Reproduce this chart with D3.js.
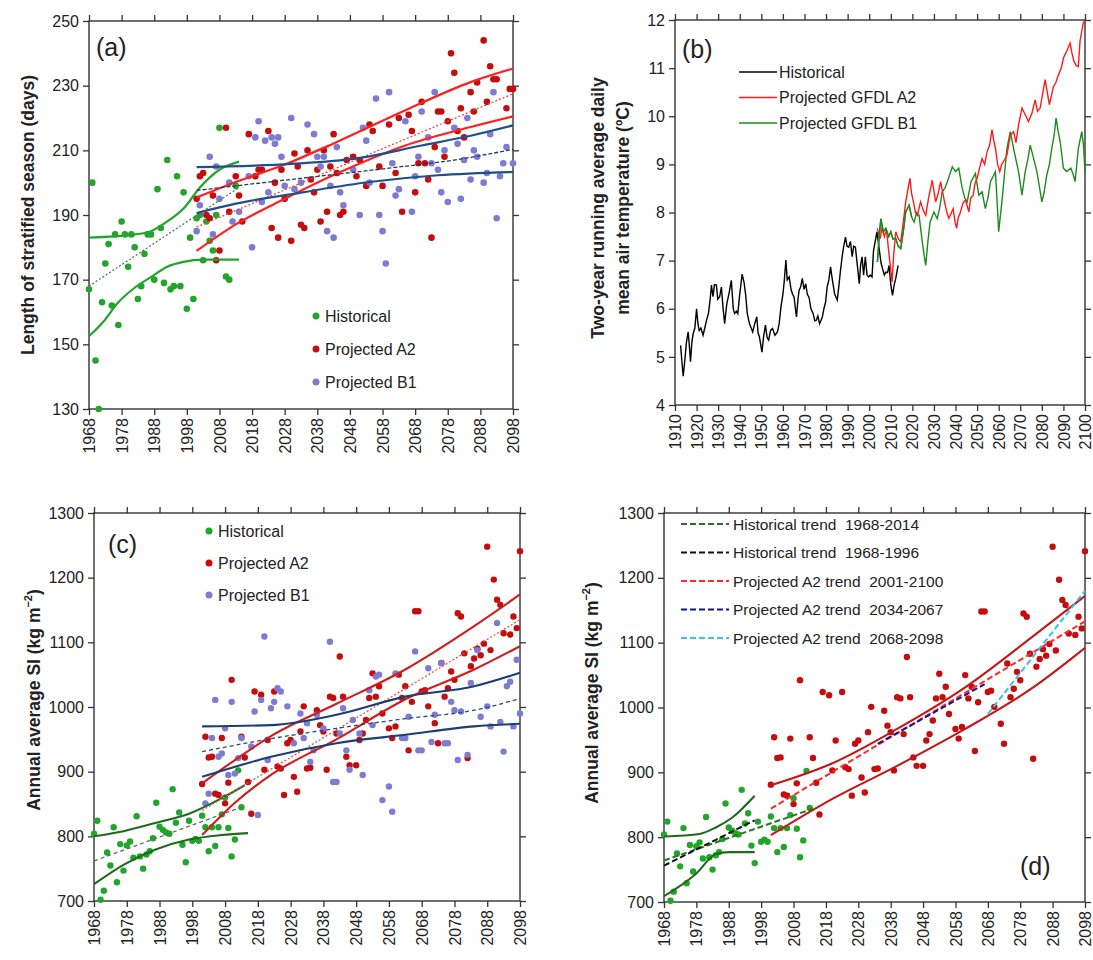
<!DOCTYPE html>
<html>
<head>
<meta charset="utf-8">
<script src="https://cdn.jsdelivr.net/npm/d3@7"></script>
<style>
body { margin: 0; background: #fff; }
svg { font-family: Arial, "Liberation Sans", sans-serif; }
</style>
</head>
<body>
<svg width="1093" height="960"></svg>
<script>
// ---- panel (a): length of stratified season (days) ----
var aHist = [[1968,167],[1969,200],[1970,145],[1971,130],[1972,163],[1973,175],[1974,181],[1975,162],[1976,184],[1977,156],[1978,188],[1979,184],[1980,174],[1981,184],[1982,180],[1983,164],[1984,168],[1985,178],[1986,184],[1987,184],[1988,170],[1989,198],[1990,186],[1991,169],[1992,207],[1993,167],[1994,168],[1995,202],[1996,168],[1997,197],[1998,161],[1999,183],[2000,164],[2001,189],[2002,190],[2003,176],[2004,188],[2005,182],[2006,179],[2007,190],[2008,217],[2010,171],[2011,170],[2013,199]];
var aA2 = [[2001,195],[2002,202],[2003,203],[2004,190],[2005,189],[2006,196],[2007,176],[2008,179],[2010,217],[2011,191],[2013,202],[2014,196],[2015,188],[2017,215],[2019,202],[2020,204],[2021,204],[2023,216],[2024,186],[2025,200],[2026,183],[2027,204],[2028,195],[2030,182],[2031,209],[2032,205],[2033,187],[2034,186],[2035,210],[2036,201],[2037,197],[2038,204],[2039,188],[2040,210],[2041,191],[2042,205],[2043,215],[2044,203],[2045,190],[2046,191],[2047,207],[2049,208],[2050,202],[2051,207],[2053,199],[2054,218],[2055,216],[2057,205],[2058,199],[2060,218],[2062,203],[2063,220],[2064,191],[2066,221],[2067,216],[2068,197],[2069,206],[2070,225],[2071,206],[2072,201],[2073,183],[2074,211],[2075,222],[2076,222],[2077,208],[2078,219],[2079,240],[2080,234],[2081,216],[2082,223],[2083,214],[2085,228],[2086,222],[2087,231],[2089,244],[2090,225],[2091,236],[2092,232],[2093,232],[2096,223],[2097,229],[2098,229]];
var aB1 = [[2001,185],[2002,193],[2005,208],[2006,184],[2007,205],[2008,195],[2011,200],[2012,188],[2014,191],[2017,202],[2018,180],[2019,214],[2020,219],[2021,194],[2022,213],[2023,197],[2024,214],[2025,212],[2026,214],[2027,208],[2028,199],[2030,220],[2031,198],[2033,200],[2035,218],[2037,215],[2038,208],[2039,205],[2040,208],[2041,185],[2042,199],[2043,183],[2044,211],[2045,197],[2046,193],[2049,204],[2051,190],[2052,217],[2053,213],[2054,200],[2056,226],[2057,190],[2058,185],[2059,175],[2060,228],[2061,206],[2062,196],[2063,198],[2065,219],[2067,191],[2068,202],[2069,208],[2070,222],[2072,214],[2073,206],[2074,228],[2075,204],[2076,197],[2077,210],[2078,194],[2080,217],[2081,212],[2082,195],[2083,207],[2084,220],[2085,201],[2086,210],[2087,208],[2089,200],[2090,203],[2091,215],[2092,228],[2093,189],[2094,202],[2095,206],[2096,211],[2098,206]];
var aHistUp = [[1968,183],[1982,184],[1987,185],[1992,188],[1997,192],[2002,198.5],[2008,204],[2014,206.5]];
var aHistLo = [[1968,152.5],[1972,156.5],[1977,163],[1982,167.5],[1987,170.8],[1992,174],[1997,175.5],[2003,176.2],[2014,176.2]];
var aHistMid = [[1968,168],[2014,198.5]];
var aA2Up = [[2001,195.4],[2013,200.2],[2028,205.6],[2044,212.6],[2065,222.4],[2085,231.1],[2098,235.3]];
var aA2Lo = [[2001,178.9],[2013,187.1],[2028,195],[2044,202.8],[2065,211.5],[2085,217.2],[2098,220.5]];
var aA2Mid = [[2001,186.3],[2098,227.5]];
var aB1Up = [[2001,204.8],[2030,205.8],[2050,207.5],[2070,211.5],[2085,214.5],[2098,217.7]];
var aB1Lo = [[2001,190.6],[2013,193.5],[2034,197.1],[2054,200.2],[2075,202.3],[2098,203.3]];
var aB1Mid = [[2001,197.6],[2030,201],[2060,204.5],[2080,207],[2098,210.3]];

// ---- panel (b): two-year running average air temperature ----
var bHist = [[1912.6,5.24],[1913.2,4.9],[1913.8,4.6],[1914.6,4.95],[1915.3,5.3],[1916.1,5.52],[1916.7,5.2],[1917.2,4.9],[1917.8,5.3],[1918.4,5.48],[1919.2,5.6],[1920,6.0],[1920.6,5.7],[1921.2,5.55],[1922,5.6],[1923,5.45],[1923.8,5.6],[1924.6,5.76],[1925.5,5.9],[1926.3,6.2],[1926.9,6.49],[1927.6,6.25],[1928.3,6.5],[1929.2,6.49],[1929.8,6.2],[1930.7,6.25],[1931.5,6.45],[1932.3,6.0],[1933,5.69],[1934,6.1],[1935,6.31],[1936.1,6.59],[1937,6.0],[1937.6,5.9],[1938.5,5.95],[1939.1,5.9],[1940,6.3],[1941.1,6.72],[1942,6.55],[1942.7,6.31],[1943.5,5.9],[1944.5,5.69],[1945.3,5.6],[1946,5.52],[1947,5.7],[1947.9,5.83],[1948.5,5.5],[1949.1,5.42],[1950.3,5.1],[1951,5.4],[1951.9,5.66],[1952.7,5.4],[1953.4,5.35],[1954.3,5.55],[1955.2,5.59],[1956.3,5.45],[1957.5,5.52],[1958.3,5.7],[1959.1,6.04],[1960,6.3],[1960.6,6.56],[1961.4,7.01],[1962,6.6],[1962.9,6.66],[1963.8,6.4],[1964.5,6.3],[1965.2,6.24],[1965.8,6.0],[1966.3,5.83],[1967,6.2],[1967.5,6.38],[1968.2,6.45],[1969,6.63],[1969.8,6.4],[1970.6,6.52],[1971.3,6.3],[1972.1,6.24],[1973,6.0],[1974,5.9],[1974.8,5.75],[1975.5,5.76],[1976.2,5.85],[1977,5.69],[1977.6,5.75],[1978.3,5.83],[1979,6.0],[1979.8,6.14],[1980.5,6.45],[1981.3,6.6],[1982.1,6.87],[1982.6,6.7],[1983.2,6.52],[1984,6.3],[1985.2,6.18],[1986,6.5],[1986.7,6.8],[1987.5,7.1],[1988.2,7.3],[1989,7.49],[1989.7,7.3],[1990.5,7.28],[1991.3,7.4],[1992.1,7.08],[1992.8,7.3],[1993.6,7.28],[1994.5,6.9],[1995.4,6.52],[1996,6.9],[1996.7,7.08],[1997.4,6.7],[1998.2,7.08],[1999,6.7],[1999.7,6.66],[2000.5,6.7],[2001.3,6.66],[2002,7.21],[2003,7.45],[2003.6,7.6],[2004.6,7.25],[2005.5,6.95],[2006.2,6.83],[2007,6.7],[2007.7,6.76],[2008.5,6.75],[2009.2,6.9],[2010,6.5],[2010.8,6.28],[2011.6,6.5],[2012.3,6.63],[2013.4,6.9]];
var bA2 = [[2003.8,7.67],[2005,7.45],[2006,7.7],[2007,7.5],[2008,7.65],[2009,7.2],[2010,6.8],[2010.6,6.55],[2011.3,7.1],[2012.3,7.6],[2013.5,7.45],[2014.6,7.39],[2015.8,7.8],[2016.9,8.22],[2018,8.5],[2018.9,8.71],[2019.6,8.4],[2020.5,8.22],[2021.4,8.0],[2022.3,7.94],[2023.8,8.22],[2025,8.05],[2026.2,7.94],[2027.5,8.3],[2029.2,8.67],[2030.8,8.22],[2032,8.4],[2033.1,8.64],[2034.9,8.22],[2036,8.0],[2036.9,7.88],[2038.9,8.08],[2039.8,7.8],[2040.5,7.67],[2041.3,7.9],[2042.3,8.01],[2043.5,8.2],[2044.6,8.26],[2046.2,8.01],[2047,8.3],[2048.2,8.36],[2049,8.6],[2050,8.71],[2051,8.9],[2052.3,9.12],[2053.5,9.0],[2054.6,9.26],[2055.8,9.4],[2056.9,9.72],[2057.7,9.5],[2058.5,9.33],[2059.5,9.0],[2060.5,8.85],[2061.4,9.0],[2062.3,9.06],[2063.8,9.19],[2065.4,9.61],[2066.9,9.68],[2068,9.45],[2069.2,9.82],[2070.8,10.17],[2072.3,10.03],[2073.8,9.89],[2075.4,10.06],[2076.9,10.34],[2078,10.1],[2079.2,10.17],[2080.5,10.5],[2081.5,10.76],[2082.5,10.5],[2083.5,10.24],[2085.4,10.62],[2086.5,10.7],[2087.7,10.86],[2089,11.0],[2090,11.21],[2091.5,11.35],[2093.1,11.52],[2094,11.3],[2094.9,11.14],[2096,11.05],[2096.9,11.03],[2097.7,11.56],[2099.2,11.94],[2100,12.0]];
var bB1 = [[2003.8,6.97],[2004.6,7.5],[2005.4,7.87],[2006.5,7.6],[2007.7,7.67],[2009,7.5],[2010,7.6],[2011,7.45],[2012.3,7.46],[2013.4,7.3],[2014.6,7.25],[2015.8,7.6],[2016.9,8.01],[2018.5,8.15],[2019.7,7.9],[2020.8,7.8],[2022,8.0],[2023.1,7.94],[2024.6,7.39],[2025.5,7.1],[2026.2,6.9],[2027.2,7.4],[2028.2,7.8],[2030,8.01],[2031.5,7.87],[2032.7,8.1],[2033.8,8.43],[2035,8.5],[2036.2,8.64],[2037.4,8.8],[2038.5,8.95],[2040,8.85],[2041.5,8.92],[2043.1,8.5],[2044.3,8.3],[2045.4,8.22],[2047.2,8.64],[2049.2,8.81],[2050.8,8.36],[2052.3,8.43],[2053.8,8.08],[2055,8.3],[2056.2,8.64],[2058.5,8.85],[2059.3,8.2],[2060,7.6],[2060.7,7.9],[2061.5,8.22],[2062.7,8.8],[2063.8,9.33],[2065.4,9.68],[2066.9,9.33],[2068,9.1],[2069.2,8.85],[2070.8,8.36],[2072.3,8.85],[2073.5,9.1],[2074.6,9.4],[2076.2,9.12],[2077.7,8.85],[2079,8.5],[2080,8.22],[2081,8.4],[2082.3,8.78],[2083.5,9.0],[2084.6,9.33],[2085.7,9.6],[2086.6,9.96],[2087.5,9.7],[2088.5,9.47],[2090,8.92],[2091.5,8.85],[2093.4,8.92],[2094.5,8.8],[2095.4,8.64],[2096.2,9.0],[2096.9,9.33],[2098.5,9.68],[2099.3,9.4],[2100,8.85]];

// ---- panels (c) and (d): annual average SI (kg m-2) ----
var cHist = [[1968,804],[1969,824],[1970,702],[1971,716],[1972,775],[1973,755],[1974,814],[1975,729],[1976,788],[1977,747],[1978,786],[1979,792],[1980,767],[1981,831],[1982,769],[1983,750],[1984,772],[1985,777],[1986,797],[1987,852],[1988,815],[1989,810],[1990,806],[1991,804],[1992,873],[1993,821],[1994,837],[1995,787],[1996,760],[1997,824],[1998,793],[1999,796],[2000,793],[2001,832],[2002,814],[2003,777],[2004,814],[2005,785],[2006,814],[2007,834],[2008,860],[2009,813],[2010,769],[2011,795],[2012,902],[2013,845]];
var cA2 = [[2001,881],[2002,954],[2003,922],[2004,923],[2005,866],[2006,864],[2007,952],[2008,851],[2009,883],[2010,1042],[2013,954],[2014,922],[2015,884],[2016,835],[2017,1024],[2019,1019],[2020,903],[2021,949],[2023,1024],[2024,908],[2025,905],[2026,864],[2027,944],[2028,949],[2029,892],[2030,869],[2031,962],[2032,1001],[2033,905],[2034,906],[2036,995],[2037,972],[2038,962],[2039,903],[2040,1016],[2041,1014],[2042,959],[2043,1078],[2044,1016],[2045,923],[2046,910],[2048,910],[2049,949],[2050,959],[2051,980],[2052,1014],[2053,1052],[2054,1016],[2055,1032],[2056,990],[2058,967],[2059,952],[2060,970],[2061,1050],[2062,1014],[2063,1032],[2064,933],[2065,1008],[2066,1148],[2067,1148],[2068,1024],[2069,1026],[2070,1001],[2072,975],[2073,944],[2074,1068],[2075,1016],[2076,1029],[2077,1055],[2078,1042],[2079,1145],[2080,1140],[2081,1083],[2082,921],[2083,1063],[2084,1075],[2085,1090],[2086,1080],[2087,1098],[2088,1248],[2089,1088],[2090,1197],[2091,1166],[2092,1158],[2093,1114],[2095,1112],[2096,1140],[2097,1122],[2098,1241]];
var cB1 = [[2002,851],[2003,866],[2004,952],[2005,1011],[2006,923],[2007,928],[2008,967],[2009,895],[2010,1008],[2011,897],[2012,921],[2013,952],[2016,939],[2017,993],[2018,833],[2019,1011],[2020,1109],[2021,918],[2022,998],[2023,1008],[2024,1029],[2025,1024],[2027,1001],[2029,944],[2031,990],[2032,952],[2033,975],[2034,915],[2035,933],[2036,988],[2038,967],[2040,1101],[2041,884],[2042,884],[2043,959],[2044,998],[2045,933],[2046,903],[2047,980],[2049,959],[2050,895],[2052,1026],[2053,972],[2054,1047],[2055,1050],[2056,856],[2058,877],[2059,838],[2060,1052],[2062,952],[2063,952],[2064,985],[2066,1086],[2067,933],[2068,933],[2070,1060],[2071,946],[2072,988],[2074,1068],[2075,944],[2076,944],[2077,1008],[2078,995],[2079,918],[2080,993],[2082,926],[2083,1037],[2085,1088],[2086,985],[2088,1001],[2089,970],[2091,1130],[2092,977],[2093,931],[2094,1032],[2095,1039],[2096,970],[2097,1073],[2098,990]];
var cHistUp = [[1968,800],[1977,808],[1987,821],[1997,835],[2007,859],[2014,879]];
var cHistLo = [[1968,726],[1977,756],[1987,780],[1997,795],[2007,802],[2015,805]];
var cHistMid = [[1968,762],[2014,847]];
var cA2Up = [[2001,882],[2011,918],[2022,955],[2042,1005],[2063,1058],[2084,1125],[2098,1174]];
var cA2Lo = [[2001,802],[2011,852],[2022,895],[2042,950],[2063,1012],[2084,1058],[2098,1094]];
var cA2Mid = [[2001,840],[2098,1135]];
var cB1Up = [[2001,970],[2022,972],[2042,988],[2063,1016],[2084,1032],[2098,1053]];
var cB1Lo = [[2001,892],[2022,923],[2042,944],[2063,957],[2084,970],[2098,974]];
var cB1Mid = [[2001,931],[2022,951],[2042,967],[2063,982],[2084,995],[2098,1013]];

var dHistUp = [[1968,801],[1979,805],[1984,815],[1989,830],[1996,864]];
var dHistLo = [[1968,709],[1978,744],[1984,774],[1988,777],[1996,777]];
var dA2Up = [[2001,880],[2020,914],[2040,967],[2061,1031],[2082,1110],[2098,1172]];
var dA2Lo = [[2001,803],[2020,859],[2040,910],[2061,967],[2082,1031],[2098,1092]];
var dTrends = [
    {name: "Historical trend  1968-2014", color: "#1f7a1f", pts: [[1968,764],[2014,844]]},
    {name: "Historical trend  1968-1996", color: "#111111", pts: [[1968,756],[1996,826]]},
    {name: "Projected A2 trend  2001-2100", color: "#ff2a2a", pts: [[2001,844],[2098,1133]]},
    {name: "Projected A2 trend  2034-2067", color: "#14148c", pts: [[2034,944],[2067,1036]]},
    {name: "Projected A2 trend  2068-2098", color: "#33c3ee", pts: [[2068,990],[2098,1180]]}
];

var yearTicks = d3.range(1968, 2099, 10);
var bYearTicks = d3.range(1910, 2101, 10);

var GREEN = "#22a52a", RED = "#c50d0d", BLUE = "#7c7cd4";

var svg = d3.select("svg");

function panel(box, xDom, yDom, xTicks, yTicks) {
    var x = d3.scaleLinear().domain(xDom).range([box.l, box.r]);
    var y = d3.scaleLinear().domain(yDom).range([box.b, box.t]);
    var g = svg.append("g");
    var fmt = d3.format("d");

    var bx = g.append("g")
        .attr("transform", "translate(0," + box.b + ")")
        .call(d3.axisBottom(x).tickValues(xTicks).tickSize(6).tickSizeOuter(0).tickFormat(fmt));
    bx.selectAll("text")
        .attr("transform", "rotate(-90)")
        .attr("x", -9).attr("y", 0).attr("dy", "0.35em")
        .style("text-anchor", "end");
    g.append("g")
        .attr("transform", "translate(0," + box.t + ")")
        .call(d3.axisTop(x).tickValues(xTicks).tickSize(6).tickSizeOuter(0).tickFormat(""));
    g.append("g")
        .attr("transform", "translate(" + box.l + ",0)")
        .call(d3.axisLeft(y).tickValues(yTicks).tickSize(6).tickPadding(4).tickSizeOuter(0).tickFormat(fmt));
    g.append("g")
        .attr("transform", "translate(" + box.r + ",0)")
        .call(d3.axisRight(y).tickValues(yTicks).tickSize(6).tickSizeOuter(0).tickFormat(""));

    g.selectAll(".domain").remove();
    g.selectAll(".tick line").attr("stroke", "#333").attr("stroke-width", 1.3);
    g.selectAll(".tick text").attr("fill", "#222").attr("font-size", 16)
        .attr("font-family", "Arial, 'Liberation Sans', sans-serif");

    g.append("rect")
        .attr("x", box.l).attr("y", box.t)
        .attr("width", box.r - box.l).attr("height", box.b - box.t)
        .attr("fill", "none").attr("stroke", "#333").attr("stroke-width", 1.4);

    return {g: g, x: x, y: y};
}

function dots(p, data, color, r) {
    p.g.append("g").selectAll("circle").data(data).enter().append("circle")
        .attr("cx", function(d) { return p.x(d[0]); })
        .attr("cy", function(d) { return p.y(d[1]); })
        .attr("r", r || 3.3)
        .attr("fill", color);
}

function line(p, data, color, width, dash, curve) {
    var l = d3.line()
        .x(function(d) { return p.x(d[0]); })
        .y(function(d) { return p.y(d[1]); })
        .curve(curve || d3.curveMonotoneX);
    p.g.append("path").datum(data)
        .attr("d", l)
        .attr("fill", "none")
        .attr("stroke", color)
        .attr("stroke-width", width)
        .attr("stroke-dasharray", dash || null);
}

function label(txt, x, y, size) {
    svg.append("text").attr("x", x).attr("y", y)
        .attr("font-size", size).attr("fill", "#222").text(txt);
}

function yTitle(lines, x, y) {
    var t = svg.append("text")
        .attr("transform", "translate(" + x + "," + y + ") rotate(-90)")
        .attr("text-anchor", "middle")
        .attr("font-size", 17.5).attr("font-weight", "bold").attr("fill", "#222");
    lines.forEach(function(l, i) {
        t.append("tspan").attr("x", 0).attr("dy", i == 0 ? 0 : "1.4em").text(l[0]);
        if (l[1]) {
            t.append("tspan").attr("font-size", 11).attr("dy", "-0.7em").text(l[1]);
            t.append("tspan").attr("dy", "0.45em").text(l[2]);
        }
    });
}

function dotLegend(items, x, y0, step) {
    items.forEach(function(it, i) {
        var y = y0 + i * step;
        svg.append("circle").attr("cx", x).attr("cy", y).attr("r", 3.5).attr("fill", it[1]);
        svg.append("text").attr("x", x + 9).attr("y", y).attr("dy", "0.36em")
            .attr("font-size", 16).attr("fill", "#222").text(it[0]);
    });
}

// (a)
var pa = panel({l: 89, r: 513, t: 21, b: 409}, [1968, 2098], [130, 250], yearTicks, d3.range(130, 251, 20));
dots(pa, aHist, GREEN);
dots(pa, aA2, RED);
dots(pa, aB1, BLUE);
line(pa, aHistUp, "#22a52a", 2.2);
line(pa, aHistLo, "#22a52a", 2.2);
line(pa, aHistMid, "#4f7f5f", 1.3, "2,2");
line(pa, aA2Up, "#ff1f1f", 2.2);
line(pa, aA2Lo, "#ff1f1f", 2.2);
line(pa, aA2Mid, "#e34a4a", 1.3, "2,2");
line(pa, aB1Up, "#1f4f8c", 2.2);
line(pa, aB1Lo, "#1f4f8c", 2.2);
line(pa, aB1Mid, "#1f3a66", 1.3, "4,2");
label("(a)", 96, 56, 25);
dotLegend([["Historical", GREEN], ["Projected A2", RED], ["Projected B1", BLUE]], 316, 316, 33);
yTitle([["Length of stratified season (days)"]], 34, 215);

// (b)
var pb = panel({l: 675, r: 1085, t: 20, b: 405}, [1910, 2100], [4, 12], bYearTicks, d3.range(4, 13, 1));
line(pb, bHist, "#000", 1.4, null, d3.curveLinear);
line(pb, bB1, "#1e8a1e", 1.4, null, d3.curveLinear);
line(pb, bA2, "#ff1a1a", 1.4, null, d3.curveLinear);
line(pb, bB1.filter(function(d) { return d[0] < 2020; }), "#1e8a1e", 1.4, null, d3.curveLinear);
label("(b)", 682, 58, 25);
[["Historical", "#000"], ["Projected GFDL A2", "#ff1a1a"], ["Projected GFDL B1", "#1e8a1e"]].forEach(function(it, i) {
    var y = 72 + i * 25.5;
    svg.append("line").attr("x1", 739).attr("x2", 777).attr("y1", y).attr("y2", y)
        .attr("stroke", it[1]).attr("stroke-width", 1.4);
    svg.append("text").attr("x", 779).attr("y", y).attr("dy", "0.36em")
        .attr("font-size", 16).attr("fill", "#222").text(it[0]);
});
yTitle([["Two-year running average daily"], ["mean air temperature (\u00baC)"]], 604, 208);

// (c)
var pc = panel({l: 94, r: 520, t: 513, b: 901}, [1968, 2098], [700, 1300], yearTicks, d3.range(700, 1301, 100));
dots(pc, cHist, GREEN, 3.2);
dots(pc, cA2, RED, 3.2);
dots(pc, cB1, BLUE, 3.2);
line(pc, cHistUp, "#1e6b1e", 2.1);
line(pc, cHistLo, "#1e6b1e", 2.1);
line(pc, cHistMid, "#4a7a5a", 1.3, "4,3");
line(pc, cA2Up, "#d01c1c", 2.1);
line(pc, cA2Lo, "#d01c1c", 2.1);
line(pc, cA2Mid, "#e35050", 1.3, "2,2");
line(pc, cB1Up, "#1b3f70", 2.1);
line(pc, cB1Lo, "#1b3f70", 2.1);
line(pc, cB1Mid, "#2a4a7a", 1.3, "4,3");
label("(c)", 108, 553, 25);
dotLegend([["Historical", GREEN], ["Projected A2", RED], ["Projected B1", BLUE]], 209, 531, 32);
yTitle([["Annual average SI (kg m", "\u22122", ")"]], 40, 700);

// (d)
var pd = panel({l: 664, r: 1085, t: 513, b: 902}, [1968, 2098], [700, 1300], yearTicks, d3.range(700, 1301, 100));
dots(pd, cHist, GREEN, 3.2);
dots(pd, cA2, RED, 3.2);
line(pd, dHistUp, "#1e6b1e", 2.1);
line(pd, dHistLo, "#1e6b1e", 2.1);
line(pd, dA2Up, "#c41818", 2.1);
line(pd, dA2Lo, "#c41818", 2.1);
dTrends.forEach(function(t) { line(pd, t.pts, t.color, 2, "6,3", d3.curveLinear); });
label("(d)", 1020, 875, 25);
dTrends.forEach(function(t, i) {
    var y = 524 + i * 28.5;
    svg.append("line").attr("x1", 681).attr("x2", 729).attr("y1", y).attr("y2", y)
        .attr("stroke", t.color).attr("stroke-width", 2).attr("stroke-dasharray", "6,3");
    svg.append("text").attr("x", 733).attr("y", y).attr("dy", "0.36em")
        .attr("font-size", 15.5).attr("fill", "#222").attr("xml:space", "preserve").text(t.name);
});
yTitle([["Annual average SI (kg m", "\u22122", ")"]], 598, 693);
</script>
</body>
</html>
